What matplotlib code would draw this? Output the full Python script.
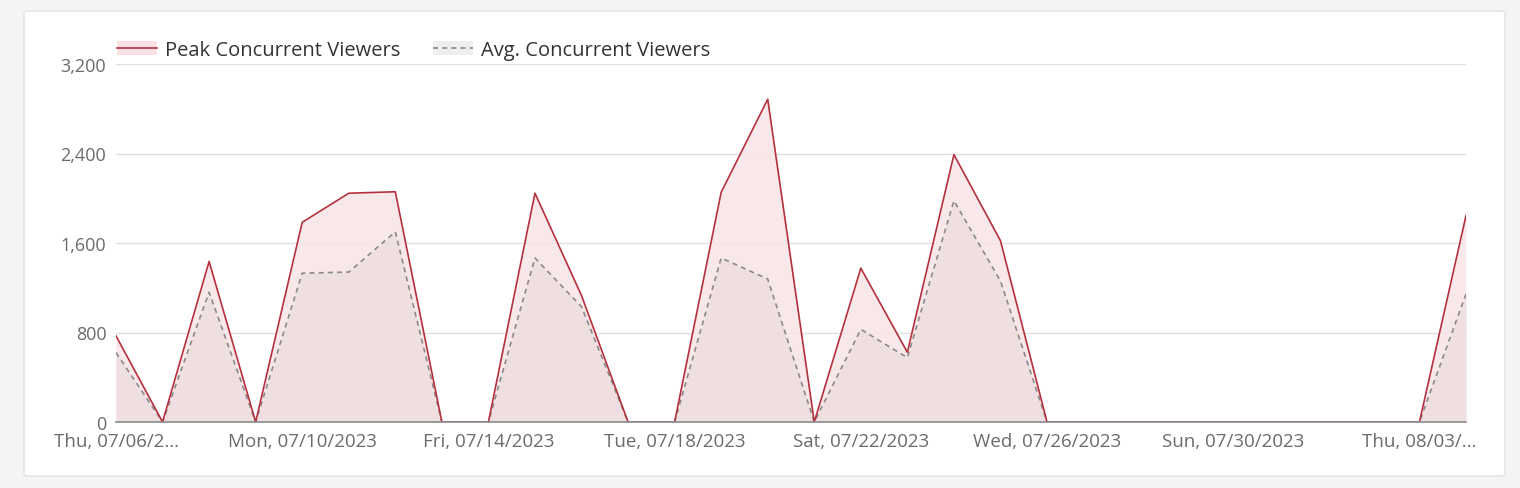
import matplotlib
matplotlib.use("Agg")
from matplotlib import pyplot as plt
from matplotlib.patches import FancyBboxPatch, Patch
from matplotlib.lines import Line2D
import matplotlib.ticker as mtick

plt.rcParams['font.family'] = ['Open Sans', 'DejaVu Sans']

# one point per day, 07/06/2023 .. 08/04/2023
peak = [770, 0, 1435, 0, 1785, 2045, 2058, 0, 0, 2045, 1130, 0, 0, 2053, 2885, 0,
        1375, 623, 2390, 1620, 0, 0, 0, 0, 0, 0, 0, 0, 0, 1845]
avg = [620, 0, 1160, 0, 1330, 1340, 1700, 0, 0, 1466, 1030, 0, 0, 1466, 1278, 0,
       828, 575, 1978, 1260, 0, 0, 0, 0, 0, 0, 0, 0, 0, 1144]
tick_pos = [0, 4, 8, 12, 16, 20, 24, 28]
tick_labels = ["Thu, 07/06/2...", "Mon, 07/10/2023", "Fri, 07/14/2023", "Tue, 07/18/2023",
               "Sat, 07/22/2023", "Wed, 07/26/2023", "Sun, 07/30/2023", "Thu, 08/03/..."]
y_ticks = [0, 800, 1600, 2400, 3200]

RED = "#b5303d"
GREY = "#8a8a8a"

fig = plt.figure(figsize=(15.2, 4.89), dpi=100)
fig.patch.set_facecolor("#f4f4f4")

""" white card """
card = FancyBboxPatch((24 / 1520, 12 / 489), 1481 / 1520, 465 / 489,
                      boxstyle="round,pad=0,rounding_size=0.004",
                      transform=fig.transFigure, facecolor="white",
                      edgecolor="#e2e2e2", linewidth=1, zorder=-10)
fig.patches.append(card)

ax = fig.add_axes([116 / 1520, 66 / 489, 1350 / 1520, 358 / 489])
ax.set_facecolor("none")
ax.set_zorder(1)

x = list(range(len(peak)))
ax.fill_between(x, 0, peak, color="#f9e4e7", alpha=0.85, linewidth=0, zorder=1)
ax.fill_between(x, 0, avg, color="#e3d6d8", alpha=0.45, linewidth=0, zorder=2)
ax.plot(x, peak, color=RED, linewidth=1.2, zorder=4)
ax.plot(x, avg, color=GREY, linewidth=1.2, linestyle=(0, (3, 2.5)), zorder=3)

ax.set_xlim(0, len(peak) - 1)
ax.set_ylim(0, 3200)
ax.set_yticks(y_ticks)
ax.yaxis.set_major_formatter(mtick.StrMethodFormatter("{x:,.0f}"))
ax.set_xticks(tick_pos)
ax.set_xticklabels(tick_labels)

ax.grid(axis="y", color="#e0e0e0", linewidth=1, zorder=0)
ax.set_axisbelow(True)
for s in ["top", "right", "left"]:
    ax.spines[s].set_visible(False)
ax.spines["bottom"].set_color("#8c8c8c")
ax.spines["bottom"].set_linewidth(1.2)
ax.spines["bottom"].set_zorder(5)
ax.tick_params(axis="both", length=0, colors="#6b6b6b", labelsize=13.5)
ax.tick_params(axis="y", pad=7, labelsize=13)
ax.tick_params(axis="x", pad=7)

""" legend """
h1 = (Patch(facecolor="#f9e1e5", edgecolor="none"), Line2D([], [], color=RED, linewidth=1.2))
h2 = (Patch(facecolor="#efefef", edgecolor="none"),
      Line2D([], [], color=GREY, linewidth=1.2, linestyle=(0, (3, 2.5))))
leg = ax.legend([h1, h2], ["Peak Concurrent Viewers", "Avg. Concurrent Viewers"],
                loc="lower left", bbox_to_anchor=(-0.004, 0.995), ncol=2, frameon=False,
                fontsize=14.5, handlelength=2.0, handletextpad=0.4, columnspacing=1.6,
                borderaxespad=0.3, borderpad=0)
for t in leg.get_texts():
    t.set_color("#333333")

fig.savefig("out.png", dpi=100, facecolor=fig.get_facecolor())
